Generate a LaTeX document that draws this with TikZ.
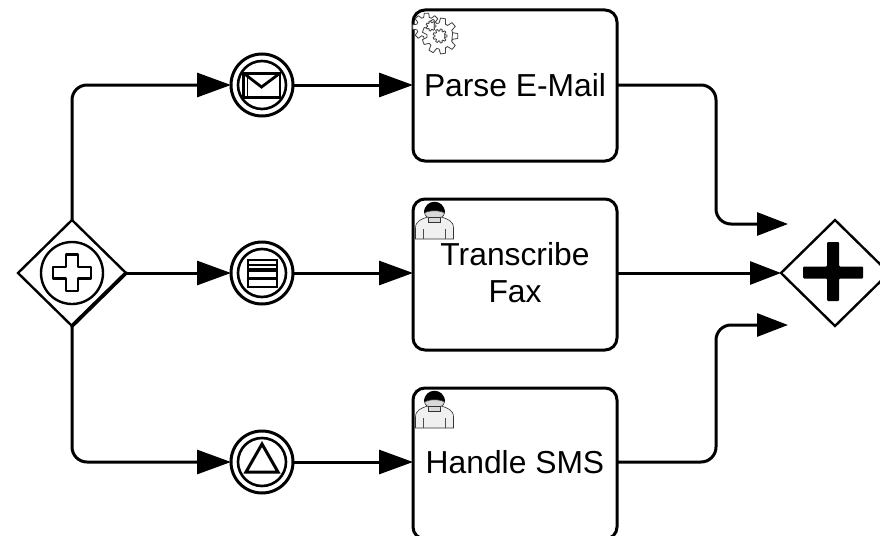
\documentclass[tikz,border=0pt]{standalone}
\usepackage{fontspec}
\setmainfont{Liberation Sans}
\usetikzlibrary{shapes.geometric,arrows.meta}
\definecolor{gearline}{gray}{0.25}
\definecolor{bodyfill}{gray}{0.94}
\definecolor{neckfill}{gray}{0.85}
\tikzset{
  gatebox/.style={draw=black,line width=2.4pt,fill=white,diamond,aspect=1,inner sep=0pt,outer sep=0pt,minimum width=108pt,minimum height=106pt},
  eventouter/.style={draw=black,line width=3pt,fill=white,circle,inner sep=0pt,outer sep=0pt,minimum size=62pt},
  eventinner/.style={draw=black,line width=2.6pt,circle,fill=none},
  taskbox/.style={draw=black,line width=3pt,fill=white,rounded corners=12pt,inner sep=0pt,outer sep=0pt,minimum width=204pt,minimum height=151pt},
  tasklabel/.style={inner sep=0pt,align=center,font=\fontsize{31.8}{37}\selectfont},
  flow/.style={line width=3pt,rounded corners=15pt,-{Triangle[length=34pt,width=24pt]}},
  shortflow/.style={line width=3pt,rounded corners=15pt,-{Triangle[length=31pt,width=23pt]}},
  mark line/.style={draw=black,line width=2.8pt,line join=miter},
  gearstyle/.style={draw=gearline,line width=0.8pt,fill=white,line join=round},
  pics/usericon/.style={code={
    \draw[draw=black!80,line width=0.6pt,fill=bodyfill] (-19,27) -- (-19,16) .. controls (-19,9) and (-13,7) .. (-7,5) -- (7,5) .. controls (13,7) and (19,9) .. (19,16) -- (19,27) -- cycle;
    \draw[draw=black!70,line width=0.5pt] (-11,27) -- (-11,17) (11,27) -- (11,17);
    \draw[draw=black!80,line width=0.6pt,fill=neckfill] (-6,-2) -- (-6,10) -- (6,10) -- (6,-2) -- cycle;
    \fill[black] (-10.5,1) .. controls (-10.5,-14) and (10.5,-14) .. (10.5,1) .. controls (5,-2) and (-5,-2) .. (-10.5,1) -- cycle;
    \draw[draw=black!80,line width=0.6pt,fill=neckfill] (-10,1) .. controls (-9,5) and (-6,6) .. (-5,5.5) -- (5,5.5) .. controls (6,6) and (9,5) .. (10,1) .. controls (5,-2) and (-5,-2) .. (-10,1) -- cycle;
  }},
}
\newcommand{\gearpath}[5]{% cx cy router rinner teeth
  \draw[gearstyle] ({#1+#4*cos(-0.36*360/#5)},{#2+#4*sin(-0.36*360/#5)})
    \foreach \k in {0,...,#5} {
    -- ({#1+#3*cos(\k*360/#5-0.2*360/#5)},{#2+#3*sin(\k*360/#5-0.2*360/#5)})
    -- ({#1+#3*cos(\k*360/#5+0.2*360/#5)},{#2+#3*sin(\k*360/#5+0.2*360/#5)})
    -- ({#1+#4*cos(\k*360/#5+0.36*360/#5)},{#2+#4*sin(\k*360/#5+0.36*360/#5)})
    -- ({#1+#4*cos(\k*360/#5+0.64*360/#5)},{#2+#4*sin(\k*360/#5+0.64*360/#5)})
  } -- cycle;
}
\begin{document}
\begin{tikzpicture}[x=1pt,y=-1pt]
\clip (0,0) rectangle (880,535);
\fill[white] (0,0) rectangle (880,535);

% nodes
\node[gatebox] (split) at (72,273) {};
\node[gatebox] (join) at (835,273) {};
\node[eventouter] (mail) at (262,85) {};
\node[eventouter] (fax) at (262,273) {};
\node[eventouter] (sms) at (262,462) {};
\node[taskbox] (parse) at (515,85.5) {};
\node[taskbox] (transcribe) at (515,274.5) {};
\node[taskbox] (handle) at (515,463.5) {};
\node[tasklabel] (parselabel) at (515,85) {Parse E-Mail};
\node[tasklabel] (transcribelabel) at (515,273) {Transcribe\\Fax};
\node[tasklabel] (handlelabel) at (515,462) {Handle SMS};
\coordinate (joinA) at (788,224);
\coordinate (joinC) at (788,325);

% connectors
\draw[flow] (split.north) |- (mail.west);
\draw[flow] (split.east) -- (fax.west);
\draw[flow] (split.south) |- (sms.west);
\draw[flow] (mail.east) -- (mail.east -| parse.west);
\draw[flow] (fax.east) -- (fax.east -| transcribe.west);
\draw[flow] (sms.east) -- (sms.east -| handle.west);
\draw[shortflow] (mail.east -| parse.east) -- (716,85) -- (716,224) -- (joinA);
\draw[shortflow] (join.west -| transcribe.east) -- (join.west);
\draw[shortflow] (sms.east -| handle.east) -- (716,462) -- (716,325) -- (joinC);

% heavier lower right edge of the split gateway
\draw[line width=3.8pt,line cap=round] (split.east) -- (split.south);

% split gateway mark
\node[draw=black,line width=2.4pt,circle,inner sep=0pt,minimum size=62pt] (splitring) at (72,273) {};
\draw[mark line,line width=2.6pt,line join=round] (66,254.5) -- (78,254.5) -- (78,267) -- (91,267) -- (91,278.5) -- (78,278.5) -- (78,291) -- (66,291) -- (66,278.5) -- (53,278.5) -- (53,267) -- (66,267) -- cycle;

% join gateway mark
\fill[black,rounded corners=1pt] (827,242) -- (839,242) -- (839,266.5) -- (863,266.5) -- (863,278.5) -- (839,278.5) -- (839,301) -- (827,301) -- (827,278.5) -- (803,278.5) -- (803,266.5) -- (827,266.5) -- cycle;

% event inner rings
\node[eventinner,minimum size=48pt,inner sep=0pt] (mailring) at (262,85) {};
\node[eventinner,minimum size=48pt,inner sep=0pt] (faxring) at (262,273) {};
\node[eventinner,minimum size=48pt,inner sep=0pt] (smsring) at (262,462) {};

% envelope
\draw[mark line] (243.5,73.5) rectangle (280,97.5);
\draw[mark line] (244,73.5) -- (261.5,87) -- (279.5,73.5);
\draw[line width=1pt] (247.5,73.5) -- (247.5,97.5);

% list mark
\draw[mark line,line width=2pt] (248,260) rectangle (277,287);
\draw[line width=3.4pt] (248,270) -- (277,270);
\draw[line width=2.6pt] (248,278.5) -- (277,278.5);
\draw[line width=2pt] (248,264.5) -- (277,264.5);

% triangle
\draw[mark line,line width=3pt] (262,444) -- (278,472) -- (246,472) -- cycle;

% service icon
\gearpath{426.5}{27}{14}{10}{8}
\gearpath{440}{36}{18}{13}{9}
\gearpath{440}{36}{7}{5}{9}
\gearpath{431}{26}{5}{3.5}{7}

% user icons
\pic at (434.5,212) {usericon};
\pic at (434.5,401) {usericon};
\end{tikzpicture}
\end{document}
